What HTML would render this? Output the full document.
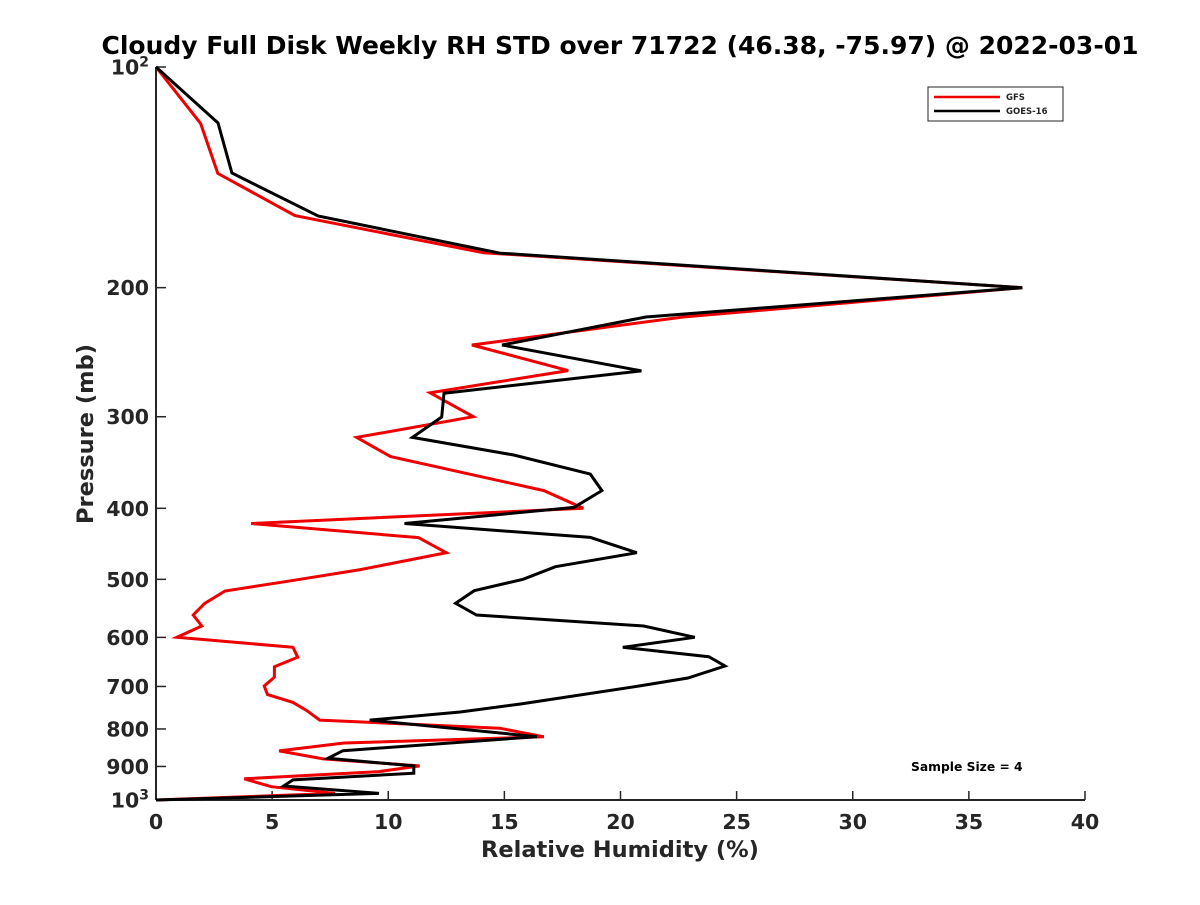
<!DOCTYPE html>
<html><head><meta charset="utf-8"><style>
body{margin:0;background:#fff;}
svg text{font-family:"DejaVu Sans","Liberation Sans",sans-serif;font-weight:bold;fill:#262626;}
</style></head><body>
<svg id="chart" width="1200" height="900">
<rect width="1200" height="900" fill="#fff"/>
<text x="620" y="54" font-size="25" text-anchor="middle" style="fill:#000">Cloudy Full Disk Weekly RH STD over 71722 (46.38, -75.97) @ 2022-03-01</text>
<g id="axes"></g>
<g id="series"></g>
<text x="620" y="857" font-size="22.5" text-anchor="middle">Relative Humidity (%)</text>
<text transform="translate(93,434) rotate(-90)" font-size="22.5" text-anchor="middle">Pressure (mb)</text>
<g>
<rect x="928" y="87" width="135" height="34" fill="#fff" stroke="#262626" stroke-width="1"/>
<line x1="934" y1="97" x2="1000" y2="97" stroke="#e00" stroke-width="2.5"/>
<text x="1006" y="100" font-size="8.5">GFS</text>
<line x1="934" y1="111" x2="1000" y2="111" stroke="#000" stroke-width="2.5"/>
<text x="1006" y="114" font-size="8.5">GOES-16</text>
</g>
<text x="911" y="771" font-size="12.3" style="fill:#000">Sample Size = 4</text>
</svg>
<script>
const xTicks=[0,5,10,15,20,25,30,35,40];
const yTicks=[100,200,300,400,500,600,700,800,900,1000];
const gfsP=[100,119.4,139.7,159.5,179.2,200,219.3,239.5,259.5,278.3,300,320.1,340,378.4,400,419.5,438.6,459.9,485,503,518.6,539.1,559.3,578.9,599.8,619,638.5,658,680,699,718,736,755.4,778,798,820,836,857,879,898.5,914.7,935.5,959,979.4,1000];
const gfsRH=[0,1.92,2.66,5.98,14.1,37.3,22.7,13.6,17.75,11.8,13.66,8.64,10.1,16.7,18.4,4.1,11.3,12.5,8.8,5.7,2.97,2.1,1.6,1.97,0.9,5.9,6.1,5.1,5.1,4.66,4.8,5.9,6.5,7.05,14.8,16.7,8.1,5.3,7.2,11.35,9.6,3.8,4.97,7.7,0];
const goesP=[100,119.2,139.5,159.7,179.4,200,219.3,239.5,259.8,278.6,300.3,320.1,338.3,359.2,378.4,398.8,419.5,438.3,459.9,480.6,500,518.1,539.1,559.3,578.9,599.8,619,637.6,656.5,681.7,699,739.6,758.6,778,819.7,856.6,877.3,898.5,919.4,938.8,956.9,979.4,1000];
const goesRH=[0,2.67,3.27,6.98,14.8,37.3,21.1,14.9,20.9,12.4,12.3,11.04,15.4,18.7,19.2,18.0,10.7,18.7,20.7,17.2,15.8,13.7,12.9,13.8,21.0,23.2,20.1,23.8,24.5,22.9,20.8,15.7,13.1,9.2,16.4,8.05,7.4,11.1,11.1,5.9,5.5,9.6,0];
const X0=156,X1=1085,Y0=67,Y1=800;
function sx(v){return X0+(v-0)/(40-0)*(X1-X0);}
function sy(p){return Y0+(Math.log10(p)-2)*(Y1-Y0);}
const NS="http://www.w3.org/2000/svg";
const axes=document.getElementById('axes'),series=document.getElementById('series');
function mk(tag,attrs,parent){const e=document.createElementNS(NS,tag);for(const k in attrs)e.setAttribute(k,attrs[k]);parent.appendChild(e);return e;}
let a=mk('line',{x1:X0,y1:Y0,x2:X0,y2:Y1,stroke:'#262626','stroke-width':2},axes);


a=mk('line',{x1:X0,y1:Y1,x2:X1,y2:Y1,stroke:'#262626','stroke-width':2},axes);


xTicks.forEach(v=>{const x=sx(v);
 mk('line',{x1:x,y1:Y1,x2:x,y2:Y1-9,stroke:'#262626','stroke-width':1.5},axes);
 const t=mk('text',{x:x,y:Y1+29,'font-size':20.5,'text-anchor':'middle'},axes);t.textContent=v;
 
 
});
yTicks.forEach(p=>{const y=sy(p);
 mk('line',{x1:X0,y1:y,x2:X0+10,y2:y,stroke:'#262626','stroke-width':1.5},axes);
 const t=mk('text',{x:X0-7,y:y+7.5,'font-size':20.5,'text-anchor':'end'},axes);
 if(p===100||p===1000){t.textContent='10';const s=mk('tspan',{dy:-8,'font-size':14},t);s.textContent=p===100?'2':'3';}
 else t.textContent=p;
 
 
});
function line(P,V,color,name){
 const d=P.map((p,i)=>(i?'L':'M')+sx(V[i]).toFixed(1)+','+sy(p).toFixed(1)).join('');
 const e=mk('path',{d:d,fill:'none',stroke:color,'stroke-width':3,'stroke-linejoin':'miter'},series);
 
 
}
line(gfsP,gfsRH,'#e00','gfs-line');
line(goesP,goesRH,'#000','goes16-line');
</script>
</body></html>
